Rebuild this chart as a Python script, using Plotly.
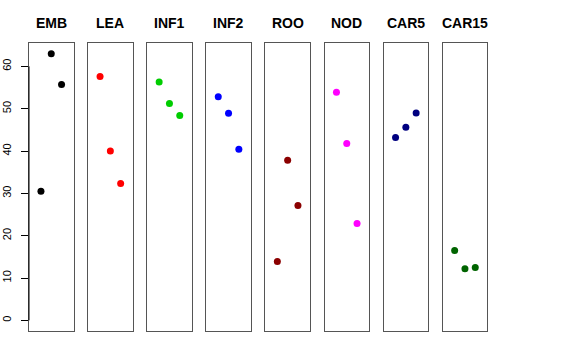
import plotly.graph_objects as go

W, H = 576, 360
panels = ["EMB", "LEA", "INF1", "INF2", "ROO", "NOD", "CAR5", "CAR15"]
colors = ["#000000", "#FF0000", "#00CD00", "#0000FF", "#8B0000", "#FF00FF", "#000080", "#006400"]
x_pos = [1, 2, 3]
values = {
    "EMB": [30.5, 63.0, 55.7],
    "LEA": [57.6, 40.0, 32.3],
    "INF1": [56.3, 51.2, 48.4],
    "INF2": [52.8, 48.9, 40.4],
    "ROO": [13.9, 37.8, 27.1],
    "NOD": [53.9, 41.8, 22.9],
    "CAR5": [43.2, 45.6, 49.0],
    "CAR15": [16.5, 12.2, 12.5],
}
y_ticks = [0, 10, 20, 30, 40, 50, 60]

ymax = 63.0
yr = [-0.04 * ymax, ymax * 1.04]
xr = [-0.16, 4.16]

# panel pixel geometry (window pixels)
left0, pw, step = 29.0, 44.5, 59.1
top, bottom = 43.0, 331.0
title_base = 33.0

fig = go.Figure()
layout = dict(
    width=W, height=H, margin=dict(l=0, r=0, t=0, b=0, autoexpand=False),
    paper_bgcolor="white", plot_bgcolor="white", showlegend=False,
    font=dict(family="Liberation Sans, Arial, sans-serif", color="black"),
)
annotations = []
shapes = []
for i, name in enumerate(panels):
    sfx = "" if i == 0 else str(i + 1)
    x0 = left0 + i * step
    x1 = x0 + pw
    fig.add_trace(go.Scatter(
        x=x_pos, y=values[name], mode="markers",
        marker=dict(color=colors[i], size=7, line=dict(width=0)),
        xaxis="x" + sfx, yaxis="y" + sfx, hoverinfo="skip",
    ))
    layout["xaxis" + sfx] = dict(
        domain=[x0 / W, x1 / W], range=xr, showticklabels=False, ticks="",
        showgrid=False, zeroline=False, showline=True, mirror=True, automargin=False,
        linecolor="#555555", linewidth=1, anchor="y" + sfx, fixedrange=True,
    )
    ya = dict(
        domain=[1 - bottom / H, 1 - top / H], range=yr, showgrid=False, automargin=False,
        zeroline=False, showline=True, mirror=True, linecolor="#555555",
        linewidth=1, anchor="x" + sfx, fixedrange=True,
    )
    if i == 0:
        ya.update(tickmode="array", tickvals=y_ticks, ticktext=[str(t) for t in y_ticks],
                  ticks="outside", ticklen=7, tickcolor="black", tickwidth=1,
                  tickangle=-90, tickfont=dict(size=11, color="black"), ticklabelstandoff=6)
    else:
        ya.update(showticklabels=False, ticks="")
    layout["yaxis" + sfx] = ya
    annotations.append(dict(
        text="<b>%s</b>" % name, x=(x0 + x1) / 2 / W, y=1 - title_base / H,
        xref="paper", yref="paper", showarrow=False, xanchor="center", yanchor="bottom",
        font=dict(size=14, color="black"),
    ))

# black axis line for first panel (from 0 to 60)
shapes.append(dict(type="line", xref="x domain", yref="y", x0=0, x1=0,
                   y0=y_ticks[0], y1=y_ticks[-1], line=dict(color="black", width=1)))
layout["annotations"] = annotations
layout["shapes"] = shapes
fig.update_layout(**layout)
fig.write_html("out.html", config={"displayModeBar": False},
               post_script="document.body.style.margin='0px';")
